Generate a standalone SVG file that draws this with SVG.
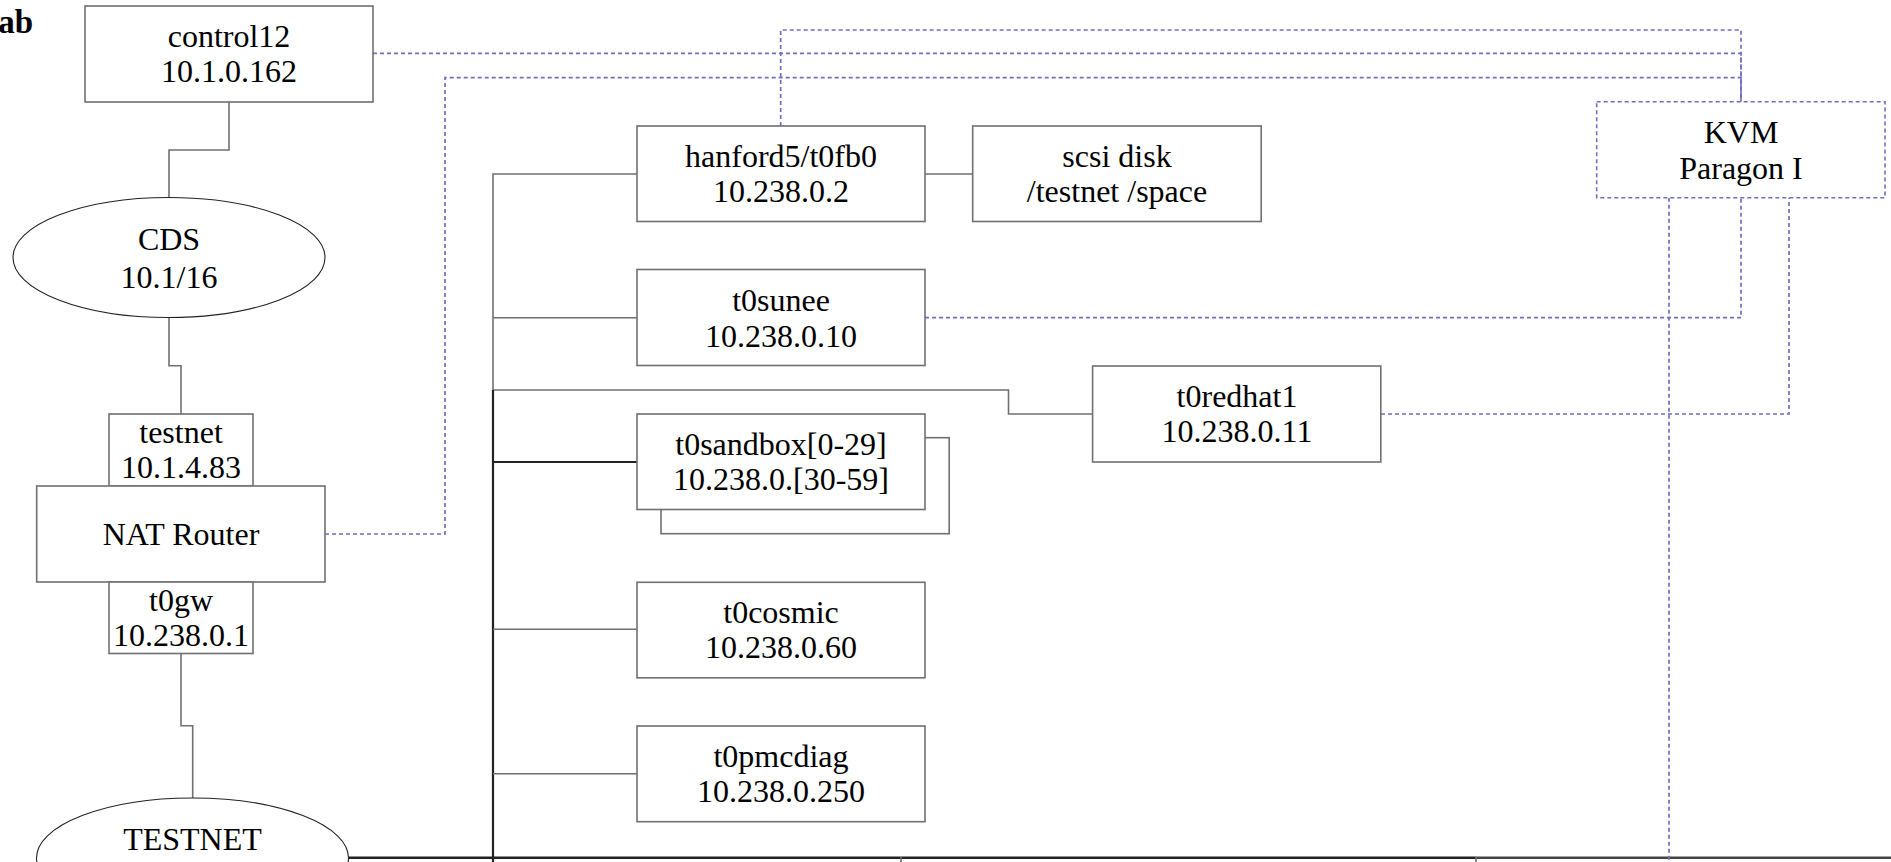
<svg xmlns="http://www.w3.org/2000/svg" width="1891" height="862" viewBox="0 0 1891 862">
<style>
.box{fill:#fff;stroke:#707070;stroke-width:1.6}
.ell{fill:#fff;stroke:#222;stroke-width:1.1}
.kvm{fill:#fff;stroke:#6e6ec4;stroke-width:1.6;stroke-dasharray:4 3}
.t{font-family:"Liberation Serif","Times New Roman",serif;font-size:32px;fill:#000;text-anchor:middle}
.c{fill:none;stroke:#707070;stroke-width:1.6}
.cd{fill:none;stroke:#222;stroke-width:2.2}
.d{fill:none;stroke:#6e6ec4;stroke-width:1.7;stroke-dasharray:4 3}
</style>
<rect width="1891" height="862" fill="#fff"/>
<text x="33" y="33" style="font-family:'Liberation Serif','Times New Roman',serif;font-size:33px;font-weight:bold;text-anchor:end">ab</text>
<g id="connectors">
<path class="c" d="M229,102 V150 H169 V198"/>
<path class="c" d="M169,317 V365.7 H181 V414"/>
<path class="c" d="M181,653 V725.7 H192.7 V798"/>
<path class="c" d="M637,174 H493 V390"/>
<path class="c" d="M493,317.7 H637"/>
<path class="c" d="M493,390 H1008.5 V414 H1092.6"/>
<path class="cd" d="M493,390 V862"/>
<path class="cd" d="M493,462 H637"/>
<path class="c" d="M493,629.3 H637"/>
<path class="c" d="M493,773.7 H637"/>
<path class="c" d="M925,174 H972.7"/>
<path fill="none" stroke="#222" stroke-width="2.6" d="M346,857.7 H1476"/>
<path fill="none" stroke="#444" stroke-width="2.6" d="M1476,857.7 H1891"/>
<path class="c" d="M901,857 V862 M1476,857 V862"/>
<path class="d" d="M373,53.3 H1741 V101.7"/>
<path class="d" d="M780.7,126 V30 H1741 V101.7"/>
<path class="d" d="M325,534 H445 V77.7 H1741 V101.7"/>
<path class="d" d="M925,317.7 H1741 V197.7"/>
<path class="d" d="M1381,414 H1789 V197.7"/>
<path class="d" d="M1669,197.7 V862"/>
</g>
<g id="control12">
<rect class="box" x="85" y="6" width="288" height="96"/>
<text class="t" x="229" y="47">control12</text>
<text class="t" x="229" y="82">10.1.0.162</text>
</g>
<g id="cds">
<ellipse class="ell" cx="169" cy="257.5" rx="156" ry="60"/>
<text class="t" x="169" y="250">CDS</text>
<text class="t" x="169" y="288">10.1/16</text>
</g>
<g id="testnet-if">
<rect class="box" x="109" y="414" width="144" height="72"/>
<text class="t" x="181" y="443">testnet</text>
<text class="t" x="181" y="478">10.1.4.83</text>
</g>
<g id="nat-router">
<rect class="box" x="36.7" y="486" width="288.3" height="96"/>
<text class="t" x="181" y="545">NAT Router</text>
</g>
<g id="t0gw">
<rect class="box" x="109" y="582" width="144" height="71.5"/>
<text class="t" x="181" y="611">t0gw</text>
<text class="t" x="181" y="646">10.238.0.1</text>
</g>
<g id="testnet">
<ellipse class="ell" cx="192.5" cy="858" rx="156" ry="60"/>
<text class="t" x="192.5" y="850">TESTNET</text>
</g>
<g id="hanford5">
<rect class="box" x="637" y="126" width="288" height="95.5"/>
<text class="t" x="781" y="167">hanford5/t0fb0</text>
<text class="t" x="781" y="202">10.238.0.2</text>
</g>
<g id="scsi">
<rect class="box" x="972.7" y="126" width="288.5" height="95.5"/>
<text class="t" x="1117" y="167">scsi disk</text>
<text class="t" x="1117" y="202">/testnet /space</text>
</g>
<g id="t0sunee">
<rect class="box" x="637" y="269.5" width="288" height="96"/>
<text class="t" x="781" y="311">t0sunee</text>
<text class="t" x="781" y="346.5">10.238.0.10</text>
</g>
<g id="t0redhat1">
<rect class="box" x="1092.6" y="366" width="288.2" height="96"/>
<text class="t" x="1237" y="407">t0redhat1</text>
<text class="t" x="1237" y="442">10.238.0.11</text>
</g>
<g id="t0sandbox">
<rect class="box" x="661" y="437.7" width="288.2" height="96"/>
<rect class="box" x="637" y="414" width="288" height="95.5"/>
<text class="t" x="781" y="455">t0sandbox[0-29]</text>
<text class="t" x="781" y="490">10.238.0.[30-59]</text>
</g>
<g id="t0cosmic">
<rect class="box" x="637" y="582.3" width="288" height="95.5"/>
<text class="t" x="781" y="623">t0cosmic</text>
<text class="t" x="781" y="658">10.238.0.60</text>
</g>
<g id="t0pmcdiag">
<rect class="box" x="637" y="726" width="288" height="95.7"/>
<text class="t" x="781" y="767">t0pmcdiag</text>
<text class="t" x="781" y="802">10.238.0.250</text>
</g>
<g id="kvm">
<rect class="kvm" x="1596.7" y="101.7" width="288.3" height="96"/>
<text class="t" x="1741" y="143.3">KVM</text>
<text class="t" x="1741" y="179">Paragon I</text>
</g>
</svg>
